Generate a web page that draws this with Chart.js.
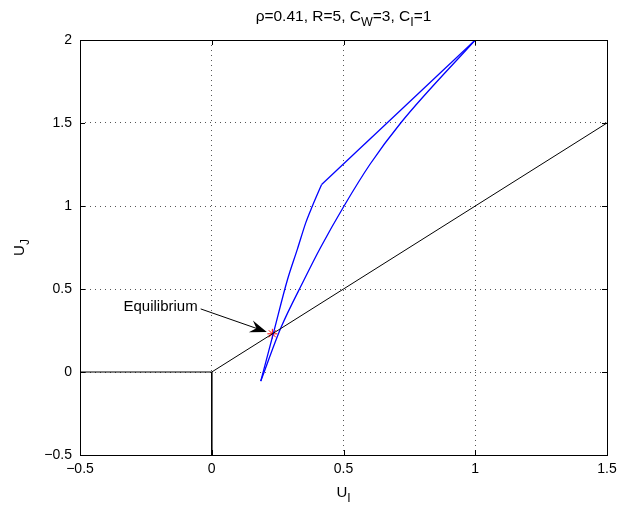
<!DOCTYPE html>
<html>
<head>
<meta charset="utf-8">
<script src="https://cdn.jsdelivr.net/npm/chart.js@4"></script>
<style>
  html, body { margin: 0; padding: 0; background: #fff; }
  #wrap { width: 620px; height: 506px; }
</style>
</head>
<body>
<div id="wrap"><canvas id="myChart" width="620" height="506"></canvas></div>
<script>
'use strict';
// left branch of the blue loop: curved part (tip -> kink)
let leftX = [0.186, 0.235, 0.287, 0.325, 0.357, 0.382, 0.417];
let leftY = [-0.055, 0.24, 0.554, 0.74, 0.9, 1.0, 1.13];
// left branch: straight part (kink -> top)
let topX = [0.417, 1.0];
let topY = [1.13, 2.0];
// right branch of the blue loop
let rightX = [0.186, 0.262, 0.350, 0.413, 0.502, 0.600, 0.717, 1.0];
let rightY = [-0.055, 0.265, 0.554, 0.75, 1.0, 1.25, 1.5, 2.0];
// black boundary lines
let horizX = [-0.5, 0];
let horizY = [0, 0];
let diagX = [0, 1.5];
let diagY = [0, 1.5];
let vertX = [0, 0];
let vertY = [0, -0.5];
// equilibrium point
let eqX = [0.23];
let eqY = [0.23];
// arrow for the annotation: from text end to the point
let arrowFrom = [-0.042, 0.38];
let arrowTo = [0.209, 0.241];
let xTicks = [-0.5, 0, 0.5, 1, 1.5];
let yTicks = [-0.5, 0, 0.5, 1, 1.5, 2];

function pts(xs, ys) {
  let out = [];
  for (let i = 0; i < xs.length; i++) {
    out.push({x: xs[i], y: ys[i]});
  }
  return out;
}

function fmt(v) {
  return String(v).replace('-', '\u2212');
}

let font = "'Liberation Sans', Arial, sans-serif";

let matlabPlugin = {
  id: 'matlab',
  afterDraw(chart) {
    let ctx = chart.ctx;
    let a = chart.chartArea;
    let xs = chart.scales.x;
    let ys = chart.scales.y;
    ctx.save();
    // box
    ctx.strokeStyle = '#000';
    ctx.lineWidth = 1;
    ctx.strokeRect(a.left + 0.5, a.top + 0.5, a.right - a.left, a.bottom - a.top);
    // inward ticks
    ctx.beginPath();
    xTicks.forEach(function (t) {
      let px = Math.round(xs.getPixelForValue(t)) + 0.5;
      ctx.moveTo(px, a.bottom); ctx.lineTo(px, a.bottom - 5);
      ctx.moveTo(px, a.top); ctx.lineTo(px, a.top + 5);
    });
    yTicks.forEach(function (t) {
      let py = Math.round(ys.getPixelForValue(t)) + 0.5;
      ctx.moveTo(a.left, py); ctx.lineTo(a.left + 5, py);
      ctx.moveTo(a.right, py); ctx.lineTo(a.right - 5, py);
    });
    ctx.stroke();

    // annotation arrow
    let x0 = xs.getPixelForValue(arrowFrom[0]), y0 = ys.getPixelForValue(arrowFrom[1]);
    let x1 = xs.getPixelForValue(arrowTo[0]), y1 = ys.getPixelForValue(arrowTo[1]);
    let ang = Math.atan2(y1 - y0, x1 - x0);
    ctx.beginPath();
    ctx.moveTo(x0, y0);
    ctx.lineTo(x1 - 8 * Math.cos(ang), y1 - 8 * Math.sin(ang));
    ctx.stroke();
    ctx.fillStyle = '#000';
    ctx.beginPath();
    ctx.moveTo(x1, y1);
    ctx.lineTo(x1 - 18 * Math.cos(ang - 0.35), y1 - 18 * Math.sin(ang - 0.35));
    ctx.lineTo(x1 - 11 * Math.cos(ang), y1 - 11 * Math.sin(ang));
    ctx.lineTo(x1 - 18 * Math.cos(ang + 0.35), y1 - 18 * Math.sin(ang + 0.35));
    ctx.closePath();
    ctx.fill();
    ctx.font = '15px ' + font;
    ctx.textAlign = 'right';
    ctx.textBaseline = 'middle';
    ctx.fillText('Equilibrium', x0 - 3, y0 - 2);

    // title with subscripts
    let cx = (a.left + a.right) / 2;
    let parts = [
      ['\u03C1=0.41, R=5, C', false], ['W', true], ['=3, C', false], ['I', true], ['=1', false]
    ];
    let big = '15.5px ' + font, small = '12.5px ' + font;
    let w = 0;
    parts.forEach(function (p) { ctx.font = p[1] ? small : big; w += ctx.measureText(p[0]).width; });
    let x = cx - w / 2;
    ctx.textAlign = 'left';
    ctx.textBaseline = 'alphabetic';
    parts.forEach(function (p) {
      ctx.font = p[1] ? small : big;
      ctx.fillText(p[0], x, p[1] ? 26 : 21);
      x += ctx.measureText(p[0]).width;
    });

    // x label U_I
    ctx.font = '15px ' + font;
    let uw = ctx.measureText('U').width;
    ctx.font = '12px ' + font;
    let iw = ctx.measureText('I').width;
    let lx = cx - (uw + iw) / 2;
    ctx.font = '15px ' + font;
    ctx.fillText('U', lx, 497);
    ctx.font = '12px ' + font;
    ctx.fillText('I', lx + uw, 502);

    // y label U_J (rotated)
    ctx.translate(24, (a.top + a.bottom) / 2);
    ctx.rotate(-Math.PI / 2);
    ctx.font = '15px ' + font;
    uw = ctx.measureText('U').width;
    ctx.font = '12px ' + font;
    let jw = ctx.measureText('J').width;
    lx = -(uw + jw) / 2;
    ctx.font = '15px ' + font;
    ctx.fillText('U', lx, 0);
    ctx.font = '12px ' + font;
    ctx.fillText('J', lx + uw, 5);
    ctx.restore();
  }
};

function line(xs, ys, color, width, smooth) {
  return {
    data: pts(xs, ys),
    showLine: true,
    borderColor: color,
    borderWidth: width,
    pointRadius: 0,
    fill: false,
    cubicInterpolationMode: smooth ? 'monotone' : 'default',
    tension: 0
  };
}

let ctx = document.getElementById('myChart').getContext('2d');
let chart = new Chart(ctx, {
  type: 'scatter',
  data: {
    datasets: [
      line(horizX, horizY, '#000', 1, false),
      line(diagX, diagY, '#000', 1, false),
      line(vertX, vertY, '#000', 1, false),
      line(leftX, leftY, '#0000ff', 1.3, true),
      line(topX, topY, '#0000ff', 1.3, false),
      line(rightX, rightY, '#0000ff', 1.3, true),
      {
        data: pts(eqX, eqY),
        showLine: false,
        pointStyle: 'star',
        pointRadius: 5,
        borderColor: '#ff0000',
        backgroundColor: '#ff0000',
        borderWidth: 1
      }
    ]
  },
  options: {
    responsive: false,
    animation: false,
    layout: { padding: { left: 0, right: 13, top: 40, bottom: 0 } },
    plugins: { legend: { display: false }, tooltip: { enabled: false } },
    scales: {
      x: {
        min: -0.5, max: 1.5,
        afterFit: function (s) { s.height = 51; s.paddingLeft = 0; s.paddingRight = 0; },
        afterBuildTicks: function (s) { s.ticks = xTicks.map(function (v) { return {value: v}; }); },
        ticks: { callback: fmt, padding: 6, color: '#000', font: { family: font, size: 14 }, maxRotation: 0 },
        grid: { color: '#555', drawTicks: false, lineWidth: 1 },
        border: { display: false, dash: [1, 4] }
      },
      y: {
        min: -0.5, max: 2,
        afterFit: function (s) { s.width = 80; s.paddingTop = 0; s.paddingBottom = 0; },
        afterBuildTicks: function (s) { s.ticks = yTicks.map(function (v) { return {value: v}; }); },
        ticks: { callback: fmt, padding: 8, color: '#000', font: { family: font, size: 14 } },
        grid: { color: '#555', drawTicks: false, lineWidth: 1 },
        border: { display: false, dash: [1, 4] }
      }
    }
  },
  plugins: [matlabPlugin]
});
</script>
</body>
</html>
